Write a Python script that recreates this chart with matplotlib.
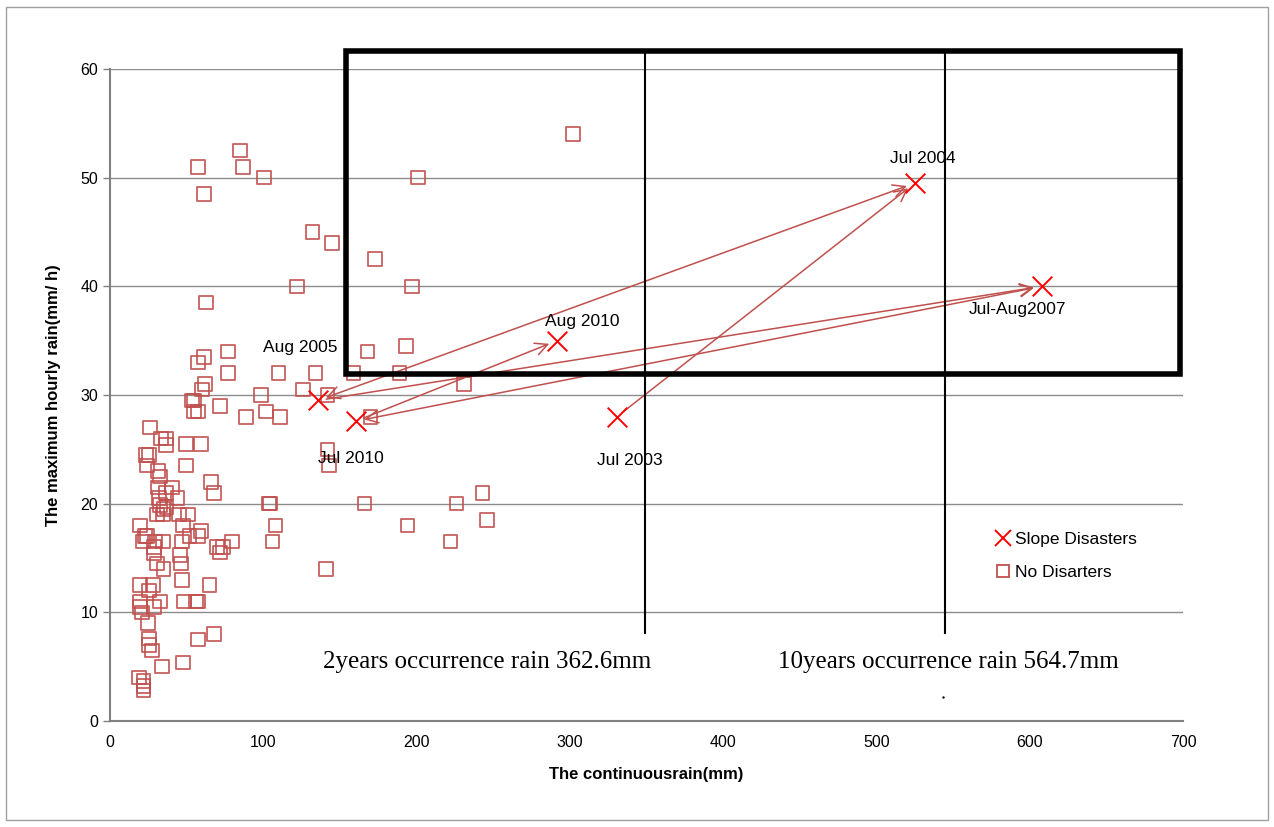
import matplotlib
matplotlib.use("Agg")
import matplotlib.pyplot as plt
from matplotlib.patches import Rectangle
from matplotlib.lines import Line2D

# ---------------- data ----------------
no_dis_x = [84.8, 57.4, 86.8, 100.5, 61.3, 201, 302, 132, 145, 173, 122, 197, 62.6,
            77, 57.4, 61.3, 77, 110, 134, 159, 189, 168, 193, 62, 60, 126, 98.5, 142, 231,
            53.5, 54.8, 71.8, 101.8, 54.8, 57.4, 88.7, 111, 170,
            142, 143,
            26, 33.3, 36.5, 36.5, 49.6, 59.4, 23.5, 25.4, 24, 31.3, 32.6, 49.6, 31.3, 36.5,
            40.4, 44, 66, 67.8, 32, 32.6, 35, 37, 30.7, 34.6, 45, 51, 103.7, 104.5, 19.6,
            22.8, 24, 21.5, 29.4, 34.6, 47, 52, 57.4, 59.4, 47.6, 69.8, 73.7, 71.8, 79.6,
            108, 106, 28.7, 28.7, 45.7, 46.3, 30.7, 35, 47, 65, 19.6, 28, 25.4, 19.6, 19.6,
            20.9, 28.7, 32.6, 48.3, 56, 57.4, 24.8, 25.4, 25.4, 27.4, 57.4, 67.8, 34, 47.6,
            19, 22, 22, 22,
            166, 226, 243, 246, 194, 222, 141]
no_dis_y = [52.5, 51, 51, 50, 48.5, 50, 54, 45, 44, 42.5, 40, 40, 38.5,
            34, 33, 33.5, 32, 32, 32, 32, 32, 34, 34.5, 31, 30.5, 30.5, 30, 30, 31,
            29.5, 29.5, 29, 28.5, 28.5, 28.5, 28, 28, 28,
            25, 23.5,
            27, 26, 26, 25.4, 25.5, 25.5, 24.5, 24.5, 23.5, 23, 22.5, 23.5, 21.5, 21,
            21.5, 20.5, 22, 21, 20.5, 19.9, 19.5, 19.7, 19, 19, 19, 19, 20, 20, 18,
            17, 17, 16.5, 16.5, 16.5, 16.5, 17, 17, 17.5, 18, 16, 16, 15.5, 16.5,
            18, 16.5, 16, 15.4, 15.3, 14.5, 14.5, 14, 13, 12.5, 12.5, 12.5, 12, 11, 10.5,
            10, 10.5, 11, 11, 11, 11, 9, 7.6, 7, 6.5, 7.5, 8, 5, 5.4,
            4, 3.7, 3.2, 2.8,
            20, 20, 21, 18.5, 18, 16.5, 14]

event_names = ["Jul 2003", "Jul 2004", "Aug 2005", "Jul-Aug2007", "Jul 2010", "Aug 2010"]
event_x = [330.7, 525, 135.7, 608, 160.5, 291.6]
event_y = [28, 49.5, 29.5, 40, 27.6, 35]

# label positions (data coords) for the events
label_x = [339, 530, 124, 592, 157, 308]
label_y = [24, 51.8, 34.4, 37.9, 24.2, 36.8]

# arrow sequence (from, to, style)
arrow_links = [("Jul 2003", "Jul 2004", "->"),
               ("Jul 2004", "Aug 2005", "<->"),
               ("Aug 2005", "Jul-Aug2007", "->"),
               ("Jul-Aug2007", "Jul 2010", "<->"),
               ("Jul 2010", "Aug 2010", "->")]

return_periods = [349, 544.7]
return_texts = ["2years occurrence rain 362.6mm", "10years occurrence rain 564.7mm"]
return_text_x = [246, 547]

# ---------------- figure ----------------
W, H = 1274, 827
fig = plt.figure(figsize=(W / 100, H / 100), dpi=100)
fig.patches.append(Rectangle((6 / W, 1 - 820 / H), (1268 - 6) / W, (820 - 7) / H,
                             transform=fig.transFigure, fill=False,
                             edgecolor="#A0A0A0", linewidth=1.0))

ax = fig.add_axes([110 / W, 1 - 721 / H, 1073 / W, 652 / H])
ax.set_xlim(0, 700)
ax.set_ylim(0, 60)
ax.set_xticks(range(0, 701, 100))
ax.set_yticks(range(0, 61, 10))
ax.yaxis.grid(True, color="#8C8C8C", linewidth=1.0)
ax.set_axisbelow(True)
for s in ["top", "right"]:
    ax.spines[s].set_visible(False)
for s in ["left", "bottom"]:
    ax.spines[s].set_color("#808080")
    ax.spines[s].set_linewidth(1.5)
ax.tick_params(axis="both", colors="#808080", labelcolor="black", labelsize=11.5,
               length=5, width=1)
ax.tick_params(axis="x", length=0, pad=10)
for lab in ax.get_xticklabels() + ax.get_yticklabels():
    lab.set_family("Liberation Sans")

ax.scatter(no_dis_x, no_dis_y, marker="s", s=95, facecolors="none",
           edgecolors="#C0504D", linewidths=1.3, alpha=0.9, zorder=3)
ax.scatter(event_x, event_y, marker="x", s=200, color="#FF0000",
           linewidths=1.4, zorder=5)

for nm, lx, ly in zip(event_names, label_x, label_y):
    ax.text(lx, ly, nm, ha="center", va="center", fontsize=12.5,
            family="Liberation Sans", zorder=6)

idx = {n: i for i, n in enumerate(event_names)}
for a, b, st in arrow_links:
    i, j = idx[a], idx[b]
    ax.annotate("", xy=(event_x[j], event_y[j]), xytext=(event_x[i], event_y[i]),
                arrowprops=dict(arrowstyle=st, color="#C0504D", lw=1.1,
                                shrinkA=6, shrinkB=6, mutation_scale=22),
                zorder=4)

# rectangle and return period lines
ax.add_patch(Rectangle((154, 31.9), 698 - 154, 61.7 - 31.9, fill=False,
                       edgecolor="black", linewidth=4, clip_on=False, zorder=7))
for xv in return_periods:
    ax.plot([xv, xv], [8.1, 61.7], color="black", linewidth=1.5,
            clip_on=False, zorder=7)
ax.plot([543.5], [2.2], marker="o", markersize=0.7, color="black")
for t, tx in zip(return_texts, return_text_x):
    ax.text(tx, 5.4, t, ha="center", va="center", fontsize=18,
            family="Liberation Serif", zorder=7)

ax.set_xlabel("The continuousrain(mm)", fontsize=12, fontweight="bold",
              family="Liberation Sans", labelpad=12)
ax.set_ylabel("The maximum hourly rain(mm/ h)", fontsize=12, fontweight="bold",
              family="Liberation Sans", labelpad=14)

h_x = Line2D([], [], linestyle="none", marker="x", markersize=11,
             markeredgewidth=1.4, color="#FF0000", label="Slope Disasters")
h_s = Line2D([], [], linestyle="none", marker="s", markersize=9,
             markerfacecolor="none", markeredgecolor="#C0504D",
             markeredgewidth=1.3, label="No Disarters")
ax.legend(handles=[h_x, h_s], loc="center left",
          bbox_to_anchor=(0.808, 0.253), frameon=False,
          prop={"family": "Liberation Sans", "size": 12.5},
          handletextpad=0.1, handlelength=1.2, labelspacing=1.0)

fig.savefig("out.png", dpi=100)
